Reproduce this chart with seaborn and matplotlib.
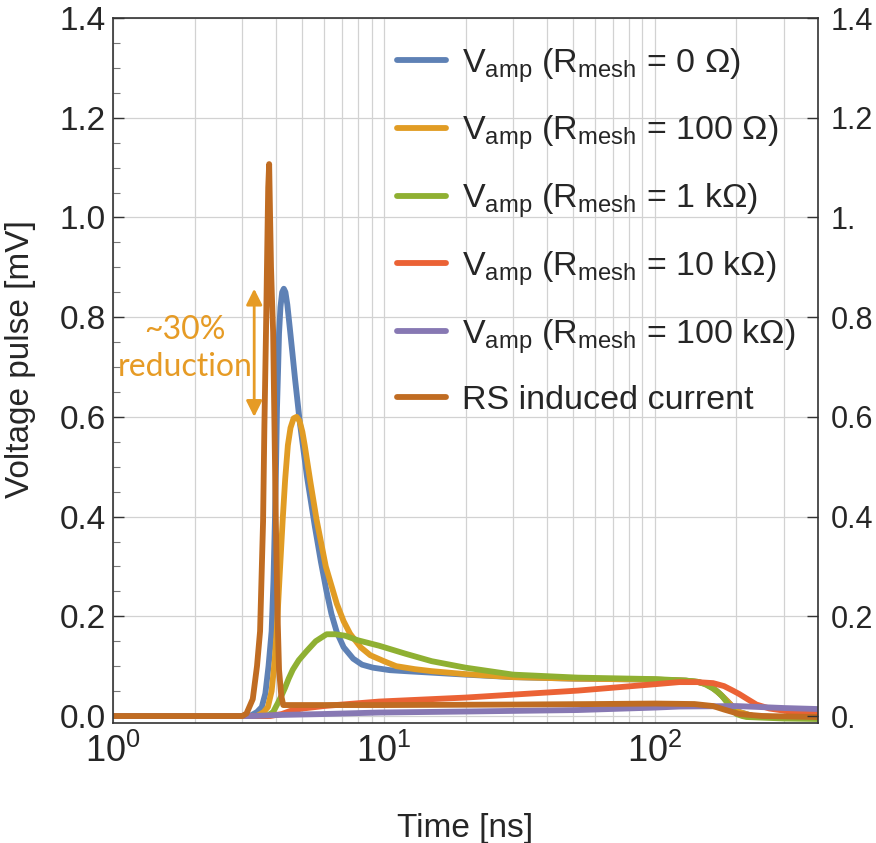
import numpy as np
import pandas as pd
import matplotlib
matplotlib.use("Agg")
import matplotlib.pyplot as plt
from matplotlib.ticker import MultipleLocator, FixedLocator, FuncFormatter, LogLocator
import seaborn as sns

# ---- data: time [ns] and voltage pulse [mV] for each series ----
t_r0 = [1.0, 3.2, 3.4, 3.54, 3.65, 3.75, 3.85, 3.91, 3.96, 4.0, 4.03, 4.07, 4.10, 4.15,
        4.21, 4.27, 4.33, 4.40, 4.5, 4.6, 4.7, 4.89, 5.2, 5.56, 5.85, 6.14, 6.4, 6.7,
        7.1, 7.7, 8.3, 9.1, 10.5, 12, 15, 20, 30, 50, 100, 130, 145, 155, 165, 175,
        185, 195, 205, 230, 300, 400]
v_r0 = [0.0, 0.0, 0.008, 0.018, 0.045, 0.10, 0.17, 0.27, 0.394, 0.51, 0.618, 0.70, 0.767,
        0.82, 0.85, 0.857, 0.85, 0.825, 0.775, 0.725, 0.675, 0.59, 0.48, 0.38, 0.31, 0.25,
        0.205, 0.168, 0.138, 0.115, 0.103, 0.097, 0.092, 0.09, 0.087, 0.083, 0.078, 0.075,
        0.073, 0.071, 0.068, 0.064, 0.055, 0.043, 0.03, 0.017, 0.008, 0.0, -0.003, -0.004]

t_r100 = [1.0, 3.4, 3.6, 3.73, 3.85, 3.95, 4.02, 4.12, 4.23, 4.32, 4.42, 4.52, 4.64, 4.76,
          4.88, 5.0, 5.1, 5.35, 5.64, 6.1, 6.7, 7.1, 7.5, 8.2, 8.9, 10, 11.1, 13, 15, 20,
          30, 50, 100, 130, 145, 155, 165, 175, 185, 195, 205, 230, 300, 400]
v_r100 = [0.0, 0.0, 0.008, 0.018, 0.05, 0.11, 0.17, 0.28, 0.394, 0.475, 0.543, 0.578,
          0.597, 0.60, 0.592, 0.57, 0.543, 0.47, 0.394, 0.30, 0.225, 0.19, 0.165, 0.138,
          0.122, 0.11, 0.10, 0.094, 0.09, 0.084, 0.078, 0.075, 0.073, 0.071, 0.068, 0.064,
          0.055, 0.043, 0.03, 0.017, 0.008, 0.0, -0.003, -0.004]

t_r1k = [1.0, 3.7, 3.9, 4.06, 4.18, 4.31, 4.45, 4.61, 4.85, 5.18, 5.6, 6.14, 6.6, 7.2, 8,
         9.6, 12, 15, 20, 30, 52, 101, 130, 143, 153, 163, 170, 177, 183, 189, 195, 200,
         210, 218, 300, 400]
v_r1k = [0.0, 0.0, 0.008, 0.026, 0.04, 0.056, 0.075, 0.093, 0.112, 0.13, 0.15, 0.164,
         0.164, 0.161, 0.152, 0.141, 0.125, 0.11, 0.097, 0.083, 0.077, 0.074, 0.071, 0.069,
         0.064, 0.056, 0.049, 0.04, 0.03, 0.02, 0.011, 0.004, 0.0, -0.002, -0.005, -0.006]

t_r10k = [1.0, 3.8, 4.2, 4.5, 5, 6, 7, 9.6, 20, 52, 101, 123, 143, 164, 180, 194, 205, 218,
          237, 265, 315, 400]
v_r10k = [0.0, 0.0, 0.004, 0.010, 0.015, 0.02, 0.023, 0.029, 0.037, 0.051, 0.064, 0.068,
          0.068, 0.066, 0.06, 0.051, 0.044, 0.035, 0.023, 0.015, 0.009, 0.004]

t_r100k = [1.0, 3.3, 4, 6, 9.6, 20, 52, 101, 123, 200, 300, 400]
v_r100k = [0.0, 0.0, 0.002, 0.004, 0.007, 0.009, 0.012, 0.017, 0.019, 0.02, 0.016, 0.014]

t_rs = [1.0, 3.0, 3.11, 3.28, 3.40, 3.49, 3.58, 3.62, 3.67, 3.72, 3.74, 3.77, 3.80, 3.83,
        3.86, 3.90, 3.94, 3.99, 4.05, 4.10, 4.18, 4.25, 5, 10, 30, 60, 100, 140, 164, 180,
        205, 250, 400]
v_rs = [0.0, 0.0, 0.005, 0.034, 0.10, 0.17, 0.39, 0.58, 0.77, 0.98, 1.06, 1.107, 1.0, 0.90,
        0.84, 0.77, 0.6, 0.39, 0.20, 0.093, 0.04, 0.022, 0.022, 0.022, 0.023, 0.024, 0.025,
        0.024, 0.02, 0.013, 0.004, 0.0, -0.002]

labels = [
    r"V$_{\mathrm{amp}}$ (R$_{\mathrm{mesh}}$ = 0 Ω)",
    r"V$_{\mathrm{amp}}$ (R$_{\mathrm{mesh}}$ = 100 Ω)",
    r"V$_{\mathrm{amp}}$ (R$_{\mathrm{mesh}}$ = 1 kΩ)",
    r"V$_{\mathrm{amp}}$ (R$_{\mathrm{mesh}}$ = 10 kΩ)",
    r"V$_{\mathrm{amp}}$ (R$_{\mathrm{mesh}}$ = 100 kΩ)",
    "RS induced current",
]
colors = ["#5E81B5", "#E19C24", "#8FB032", "#EB6235", "#8778B3", "#C06C22"]
series = [(t_r0, v_r0), (t_r100, v_r100), (t_r1k, v_r1k),
          (t_r10k, v_r10k), (t_r100k, v_r100k), (t_rs, v_rs)]

y_ticks = [0.0, 0.2, 0.4, 0.6, 0.8, 1.0, 1.2, 1.4]
annot_color = "#E69B25"

# ---- style ----
sns.set_style("white")
plt.rcParams["font.family"] = ["Liberation Sans", "DejaVu Sans"]
plt.rcParams["mathtext.fontset"] = "custom"
plt.rcParams["mathtext.rm"] = "Liberation Sans"
plt.rcParams["mathtext.it"] = "Liberation Sans:italic"
plt.rcParams["mathtext.default"] = "regular"

fig = plt.figure(figsize=(8.76, 8.43), dpi=100)
ax = fig.add_axes([113 / 876, 1 - 723 / 843, (818 - 113) / 876, (723 - 18) / 843])

for (t, v), lab, c in zip(series, labels, colors):
    df = pd.DataFrame({"t": t, "v": v})
    sns.lineplot(data=df, x="t", y="v", ax=ax, color=c, lw=4.2, label=lab,
                 estimator=None, sort=False)

ax.set_xscale("log")
ax.set_xlim(1, 400)
ax.set_ylim(-0.014, 1.4)

# grid
ax.xaxis.set_major_locator(LogLocator(base=10, numticks=10))
ax.xaxis.set_minor_locator(LogLocator(base=10, subs=np.arange(2, 10), numticks=10))
ax.yaxis.set_major_locator(FixedLocator(y_ticks))
ax.yaxis.set_minor_locator(MultipleLocator(0.05))
ax.yaxis.set_major_formatter(FuncFormatter(lambda v, p: f"{v:.1f}"))
ax.grid(which="both", axis="x", color="#d2d2d2", lw=0.9)
ax.grid(which="major", axis="y", color="#d2d2d2", lw=0.9)
ax.set_axisbelow(True)

ax.tick_params(axis="both", which="major", direction="in", length=8, width=1.0,
               color="#333333", top=False, right=False)
ax.tick_params(axis="both", which="minor", direction="in", length=5, width=0.8,
               color="#777777", top=False, right=False)
ax.tick_params(axis="x", which="major", labelsize=26, pad=8)
ax.tick_params(axis="y", which="major", labelsize=24, pad=5)

for s in ax.spines.values():
    s.set_color("#333333")
    s.set_linewidth(1.2)

# right-hand scale
ax2 = ax.twinx()
ax2.set_ylim(ax.get_ylim())
ax2.yaxis.set_major_locator(FixedLocator(y_ticks))
ax2.yaxis.set_major_formatter(FuncFormatter(
    lambda v, p: (f"{v:.1f}".rstrip("0") if v != 0 else "0.")))
ax2.tick_params(axis="y", which="major", direction="in", length=8, width=1.0,
                color="#333333", labelsize=22, pad=9)
ax2.grid(False)
for s in ax2.spines.values():
    s.set_visible(False)

ax.set_xlabel("Time [ns]", fontsize=24)
ax.set_ylabel("Voltage pulse [mV]", fontsize=24)
ax.xaxis.set_label_coords(0.499, -0.127)
ax.yaxis.set_label_coords(-0.109, 0.516)

# legend
leg = ax.legend(loc="upper left", bbox_to_anchor=(397 / 876, 1 - 46 / 843),
                bbox_transform=fig.transFigure, frameon=False, fontsize=24.5,
                handlelength=1.45, handletextpad=0.45, labelspacing=0.86,
                borderaxespad=0, borderpad=0)
for h in leg.get_lines():
    h.set_linewidth(4.2)

# reduction annotation
peak_hi = max(v_r0)
peak_lo = max(v_r100)
x_arrow = 3.32
ax.annotate("", xy=(x_arrow, peak_hi), xytext=(x_arrow, peak_lo),
            arrowprops=dict(arrowstyle="<|-|>", color=annot_color, lw=2,
                            mutation_scale=24, shrinkA=0, shrinkB=0))
ax.text(1.84, 0.737, "~30%\nreduction", color=annot_color, fontsize=23,
        family=["Lato", "DejaVu Sans"], ha="center", va="center",
        multialignment="center", linespacing=1.3)

fig.savefig("out.png", dpi=100)
